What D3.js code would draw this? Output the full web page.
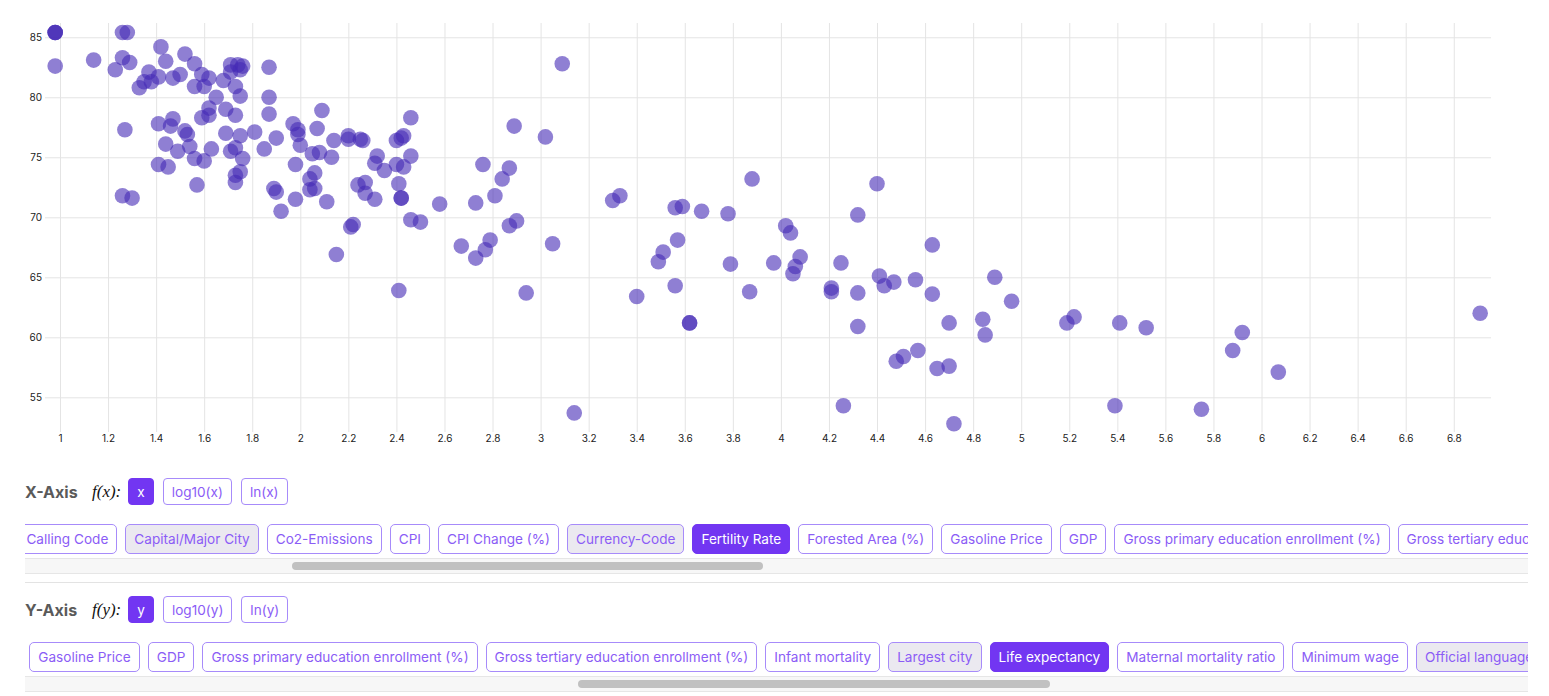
<!DOCTYPE html>
<html><head><meta charset="utf-8">
<script src="https://cdn.jsdelivr.net/npm/d3@7"></script>
<style>
body{margin:0;background:#fff;font-family:Inter,"Noto Sans",sans-serif;width:1549px;height:696px;overflow:hidden;position:relative}
#chart{position:absolute;left:0;top:0}
.fnrow{position:absolute;left:25px;height:27px;display:flex;align-items:center}
.axlabel{font-weight:700;color:#5a5a5a;font-size:16px;width:67px}
.fx{font-family:"Liberation Serif","DejaVu Serif",serif;font-style:italic;font-size:17px;color:#111;margin-right:7px}
.fbtn{height:27px;box-sizing:border-box;border:1px solid #a78bfa;border-radius:4px;color:#8b5cf6;font-size:13.6px;padding:0 8px;display:flex;align-items:center;margin-right:9px;background:#fff}
.sel{background:#7236f2;border-color:#7236f2;color:#fff}
.rowwrap{position:absolute;left:25px;width:1503px;height:30px;overflow:hidden}
.row{position:absolute;left:0;top:0;display:flex;white-space:nowrap}
.cbtn{height:30px;box-sizing:border-box;border:1px solid #a78bfa;border-radius:5px;color:#8b5cf6;font-size:13.6px;padding:0 8px;display:flex;align-items:center;margin-right:8px;background:#fff;flex:none}
.cbtn.dis{background:#ebe9f0}
.cbtn.sel{background:#7236f2;border-color:#7236f2;color:#fff}
.track{position:absolute;left:25px;width:1503px;height:14px;background:#f7f7f7;border-top:1px solid #e6e6e6;border-bottom:1px solid #e6e6e6}
.thumb{position:absolute;top:3px;height:8px;border-radius:4px;background:#c1c1c1}
.sep{position:absolute;left:25px;width:1503px;height:1px;background:#e3e3e3}
</style></head>
<body>
<svg id="chart" width="1549" height="452"></svg>
<script>
// ---- data: Fertility Rate (x) vs Life expectancy (y)
const fertility = [0.98,0.98,0.98,0.98,1.14,1.26,1.28,1.23,1.26,1.29,1.27,1.26,1.30,1.33,1.35,1.37,1.38,1.41,1.42,1.44,1.47,1.50,1.52,1.56,1.59,1.62,1.56,1.60,1.65,1.68,1.71,1.74,1.75,1.76,1.71,1.73,1.75,1.87,1.87,1.87,1.62,1.62,1.59,1.69,1.73,1.41,1.47,1.46,1.52,1.53,1.44,1.49,1.54,1.56,1.60,1.63,1.41,1.45,1.57,1.69,1.75,1.81,1.90,1.85,1.73,1.71,1.76,1.75,1.73,1.73,1.97,1.99,1.99,2.00,2.09,2.07,2.14,1.98,2.05,2.08,2.13,2.06,2.04,2.06,2.04,1.98,2.11,1.92,1.89,1.90,2.20,2.20,2.25,2.26,2.32,2.31,2.35,2.40,2.40,2.24,2.27,2.27,2.31,2.41,2.42,2.42,2.21,2.22,2.15,2.41,3.09,2.46,2.42,2.43,2.46,2.43,2.46,2.50,2.58,2.73,2.76,2.81,2.84,2.87,2.89,3.02,2.87,2.90,3.30,3.33,3.56,3.59,3.67,3.78,3.88,2.67,2.73,2.77,2.79,3.05,2.94,3.14,3.40,3.49,3.51,3.57,3.56,3.62,3.62,3.79,3.87,3.97,4.40,4.32,4.02,4.04,4.08,4.06,4.05,4.25,4.21,4.21,4.32,4.32,4.41,4.43,4.47,4.56,4.63,4.63,4.70,4.84,4.85,4.89,4.96,5.19,5.22,5.41,5.52,4.57,4.51,4.48,4.70,4.65,4.26,4.72,5.39,5.92,5.88,6.07,5.75,6.91];
const lifeExpectancy = [85.4,85.4,85.4,82.6,83.1,85.4,85.4,82.3,83.3,82.9,77.3,71.8,71.6,80.8,81.3,82.1,81.3,81.7,84.2,83.0,81.6,81.9,83.6,82.8,81.9,81.6,80.9,80.9,80.0,81.4,82.7,82.7,82.3,82.6,82.1,80.9,80.1,82.5,80.0,78.6,79.1,78.5,78.3,79.0,78.5,77.8,78.2,77.6,77.2,76.9,76.1,75.5,75.9,74.9,74.7,75.7,74.4,74.2,72.7,77.0,76.8,77.1,76.6,75.7,75.8,75.5,74.9,73.8,73.5,72.9,77.8,77.3,76.9,76.0,78.9,77.4,76.4,74.4,75.3,75.4,75.0,73.7,73.2,72.4,72.3,71.5,71.3,70.5,72.4,72.1,76.8,76.5,76.5,76.4,75.1,74.5,73.9,74.4,76.4,72.7,72.9,72.0,71.5,72.8,71.6,71.6,69.2,69.4,66.9,63.9,82.8,78.3,76.6,76.8,75.1,74.2,69.8,69.6,71.1,71.2,74.4,71.8,73.2,74.1,77.6,76.7,69.3,69.7,71.4,71.8,70.8,70.9,70.5,70.3,73.2,67.6,66.6,67.3,68.1,67.8,63.7,53.7,63.4,66.3,67.1,68.1,64.3,61.2,61.2,66.1,63.8,66.2,72.8,70.2,69.3,68.7,66.7,65.9,65.3,66.2,64.1,63.8,63.7,60.9,65.1,64.3,64.6,64.8,67.7,63.6,61.2,61.5,60.2,65.0,63.0,61.2,61.7,61.2,60.8,58.9,58.4,58.0,57.6,57.4,54.3,52.8,54.3,60.4,58.9,57.1,54.0,62.0];
const xTicks = [1,1.2,1.4,1.6,1.8,2,2.2,2.4,2.6,2.8,3,3.2,3.4,3.6,3.8,4,4.2,4.4,4.6,4.8,5,5.2,5.4,5.6,5.8,6,6.2,6.4,6.6,6.8];
const yTicks = [55,60,65,70,75,80,85];
const columns = ["Country","Density (P/Km2)","Abbreviation","Agricultural Land( %)","Land Area(Km2)","Armed Forces size","Birth Rate","Calling Code","Capital/Major City","Co2-Emissions","CPI","CPI Change (%)","Currency-Code","Fertility Rate","Forested Area (%)","Gasoline Price","GDP","Gross primary education enrollment (%)","Gross tertiary education enrollment (%)","Infant mortality","Largest city","Life expectancy","Maternal mortality ratio","Minimum wage","Official language","Out of pocket health expenditure","Physicians per thousand","Population","Population: Labor force participation (%)","Tax revenue (%)","Total tax rate","Unemployment rate","Urban_population","Latitude","Longitude"];
const textColumns = ["Country","Abbreviation","Capital/Major City","Currency-Code","Largest city","Official language"];
const xFuncs = ["x","log10(x)","ln(x)"];
const yFuncs = ["y","log10(y)","ln(y)"];
const selectedX = "Fertility Rate", selectedY = "Life expectancy";

const svg = d3.select("#chart");
const x = d3.scaleLinear().domain([0.9376, 6.955]).range([45, 1491]);
const y = d3.scaleLinear().domain([52.11, 86.19]).range([432, 23]);

const gx = svg.append("g").attr("transform","translate(0,432)")
  .call(d3.axisBottom(x).tickValues(xTicks).tickSize(-409).tickPadding(3).tickFormat(d3.format("~g")));
const gy = svg.append("g").attr("transform","translate(45,0)")
  .call(d3.axisLeft(y).tickValues(yTicks).tickSize(-1446).tickPadding(3));
[gx,gy].forEach(g=>{
  g.select(".domain").remove();
  g.selectAll(".tick line").attr("stroke","#e4e4e4");
  g.selectAll(".tick text").attr("fill","#222").style("font-size","10px").style("font-family","Inter, sans-serif");
});

const pts = fertility.map((f,i)=>({f, l: lifeExpectancy[i]}));
svg.append("g").selectAll("circle").data(pts).join("circle")
  .attr("cx", d=>x(d.f)).attr("cy", d=>y(d.l)).attr("r", 7.8)
  .attr("fill","#442ab6").attr("fill-opacity",0.6);

// ---- controls
const body = d3.select("body");
function fnRow(label, fx, funcs, top){
  const r = body.append("div").attr("class","fnrow").style("top", top+"px");
  r.append("span").attr("class","axlabel").text(label);
  r.append("span").attr("class","fx").text(fx);
  funcs.forEach((f,i)=> r.append("div").attr("class","fbtn"+(i===0?" sel":"")).text(f));
}
function colRow(top, selected, anchorName, anchorLeft){
  const w = body.append("div").attr("class","rowwrap").style("top", top+"px");
  const row = w.append("div").attr("class","row");
  row.selectAll("div").data(columns).join("div")
    .attr("class", d=>"cbtn"+(textColumns.includes(d)?" dis":"")+(d===selected?" sel":""))
    .text(d=>d);
  const node = row.node();
  const anchor = row.selectAll("div").filter(d=>d===anchorName).node();
  const scroll = anchor.offsetLeft - anchorLeft;
  row.style("left", (-scroll)+"px");
  const contentW = node.scrollWidth, trackW = 1503;
  const tr = body.append("div").attr("class","track").style("top",(top+34)+"px");
  tr.append("div").attr("class","thumb")
    .style("width", (trackW*trackW/contentW)+"px")
    .style("left", (scroll*trackW/contentW)+"px");
}
fnRow("X-Axis","f(x):", xFuncs, 478);
colRow(524, selectedX, "Capital/Major City", 100);
body.append("div").attr("class","sep").style("top","582px");
fnRow("Y-Axis","f(y):", yFuncs, 596);
colRow(642, selectedY, "Gasoline Price", 4);
</script>
</body></html>
